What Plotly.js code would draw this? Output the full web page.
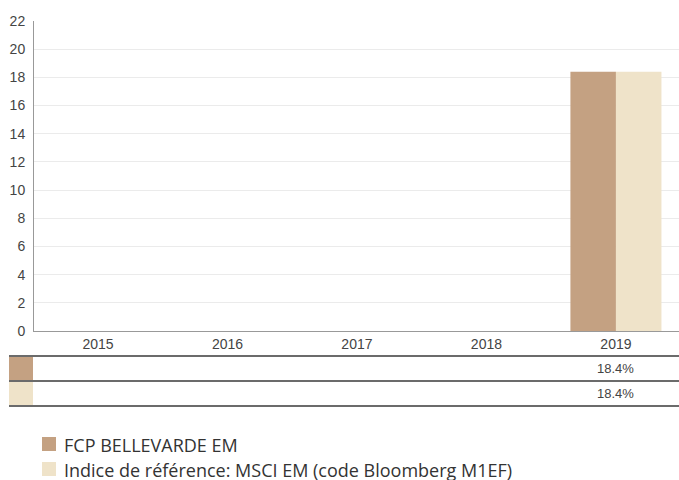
<!DOCTYPE html>
<html><head><meta charset="utf-8">
<script src="https://cdn.plot.ly/plotly-3.0.1.min.js"></script>
<style>html,body{margin:0;padding:0;background:#fff;}#chart{width:679px;height:480px;}</style>
</head><body><div id="chart"></div>
<script>
const years = ["2015", "2016", "2017", "2018", "2019"];
const fundValues = [null, null, null, null, 18.4];
const indexValues = [null, null, null, null, 18.4];
const fundName = "FCP BELLEVARDE EM";
const indexName = "Indice de référence: MSCI EM (code Bloomberg M1EF)";
const fundColor = "#c4a182";
const indexColor = "#efe3c9";

const W = 679, H = 480, L = 34, R = 0, T = 21, B = 149;
const pw = W - L - R, ph = H - T - B;
const px = p => (p - L) / pw;       // pixel x -> paper x
const py = p => (H - B - p) / ph;   // pixel y -> paper y

const traces = [
  {type: "bar", x: years, y: fundValues, name: fundName, marker: {color: fundColor, line: {width: 0}}, hoverinfo: "none"},
  {type: "bar", x: years, y: indexValues, name: indexName, marker: {color: indexColor, line: {width: 0}}, hoverinfo: "none"}
];

const shapes = [];
const annotations = [];
// table lines
[356, 381, 406].forEach(y => shapes.push({type: "line", xref: "paper", yref: "paper", x0: px(9), x1: px(679), y0: py(y), y1: py(y), line: {color: "#3a3a3a", width: 1.5}}));
// table row swatches and values
const rows = [[fundColor, fundValues, 368.5], [indexColor, indexValues, 393.5]];
rows.forEach(([c, vals, yc]) => {
  shapes.push({type: "rect", xref: "paper", yref: "paper", x0: px(9), x1: px(33), y0: py(yc - 11.5), y1: py(yc + 11.5), fillcolor: c, line: {width: 0}});
  vals.forEach((v, i) => {
    if (v == null) return;
    annotations.push({xref: "x", yref: "paper", x: i, y: py(yc), text: v.toFixed(1) + "%", showarrow: false, xanchor: "center", yanchor: "middle", font: {family: "Liberation Sans, Arial, sans-serif", size: 13, color: "#444"}});
  });
});
// custom legend
const legendItems = [[fundColor, fundName, 444], [indexColor, indexName, 469]];
legendItems.forEach(([c, t, yc]) => {
  shapes.push({type: "rect", xref: "paper", yref: "paper", x0: px(42), x1: px(56), y0: py(yc - 7), y1: py(yc + 7), fillcolor: c, line: {width: 0}});
  annotations.push({xref: "paper", yref: "paper", x: px(62), y: py(yc + 1), text: t, showarrow: false, xanchor: "left", yanchor: "middle", font: {family: "Open Sans, Noto Sans, sans-serif", size: 18, color: "#333"}});
});

const layout = {
  width: W, height: H,
  margin: {l: L, r: R, t: T, b: B, pad: 0},
  paper_bgcolor: "#fff", plot_bgcolor: "#fff",
  showlegend: false,
  barmode: "group", bargap: 0.297, bargroupgap: 0,
  font: {family: "Liberation Sans, Arial, sans-serif", color: "#444"},
  xaxis: {type: "category", categoryorder: "array", categoryarray: years, range: [-0.494, 4.487], autorange: false, showgrid: false, showline: true, linecolor: "#999", linewidth: 1, ticks: "", tickfont: {size: 14, color: "#444"}, fixedrange: true},
  yaxis: {range: [0, 22], autorange: false, dtick: 2, tick0: 0, showgrid: true, gridcolor: "#ebebeb", gridwidth: 1, zeroline: false, showline: true, linecolor: "#999", linewidth: 1, ticks: "", ticklabelstandoff: 5, tickfont: {size: 14, color: "#444"}, fixedrange: true},
  shapes: shapes,
  annotations: annotations
};
Plotly.newPlot("chart", traces, layout, {displayModeBar: false, staticPlot: true});
</script></body></html>
